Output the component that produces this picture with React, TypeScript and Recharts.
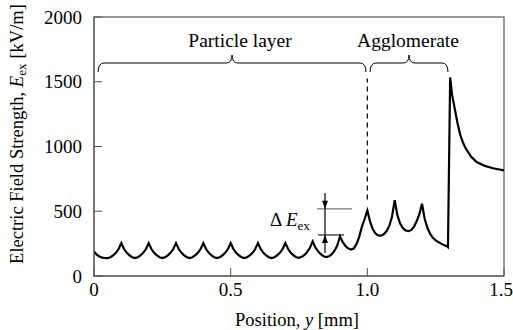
import React from "react"
import { LineChart, Line, XAxis, YAxis, ReferenceLine, Customized } from "recharts"

// position along y [mm]
const positions = [
  0.0, 0.01, 0.02, 0.03, 0.04, 0.05, 0.06, 0.07, 0.08, 0.09,
  0.1, 0.11, 0.12, 0.13, 0.14, 0.15, 0.16, 0.17, 0.18, 0.19,
  0.2, 0.21, 0.22, 0.23, 0.24, 0.25, 0.26, 0.27, 0.28, 0.29,
  0.3, 0.31, 0.32, 0.33, 0.34, 0.35, 0.36, 0.37, 0.38, 0.39,
  0.4, 0.41, 0.42, 0.43, 0.44, 0.45, 0.46, 0.47, 0.48, 0.49,
  0.5, 0.51, 0.52, 0.53, 0.54, 0.55, 0.56, 0.57, 0.58, 0.59,
  0.6, 0.61, 0.62, 0.63, 0.64, 0.65, 0.66, 0.67, 0.68, 0.69,
  0.7, 0.71, 0.72, 0.73, 0.74, 0.75, 0.76, 0.77, 0.78, 0.79,
  0.8, 0.81, 0.82, 0.83, 0.84, 0.85, 0.86, 0.87, 0.88, 0.89,
  0.9, 0.91, 0.92, 0.93, 0.94, 0.95, 0.96, 0.97, 0.98, 0.99,
  1.0, 1.01, 1.02, 1.03, 1.04, 1.05, 1.06, 1.07, 1.08, 1.09,
  1.1, 1.11, 1.12, 1.13, 1.14, 1.15, 1.16, 1.17, 1.18, 1.19,
  1.2, 1.21, 1.22, 1.23, 1.24, 1.25, 1.26, 1.27, 1.28, 1.29,
  1.295, 1.303, 1.31, 1.32, 1.33, 1.34, 1.35, 1.36, 1.38, 1.4,
  1.43, 1.46, 1.5,
]

// electric field strength E_ex [kV/m]
const fieldStrength = [
  189, 165, 150, 142, 139, 138, 145, 159, 179, 208,
  254, 208, 179, 159, 145, 138, 145, 159, 179, 208,
  254, 208, 179, 159, 145, 138, 145, 159, 179, 208,
  254, 208, 179, 159, 145, 138, 145, 159, 179, 208,
  254, 208, 179, 159, 145, 138, 145, 159, 179, 208,
  254, 208, 179, 159, 145, 138, 145, 159, 179, 208,
  254, 208, 179, 159, 145, 138, 145, 159, 179, 208,
  254, 208, 179, 159, 145, 140, 148, 163, 186, 218,
  267, 220, 190, 168, 153, 146, 152, 168, 195, 235,
  305, 262, 232, 213, 204, 212, 245, 300, 380, 440,
  505, 420, 360, 328, 313, 311, 322, 345, 385, 455,
  586, 470, 405, 370, 352, 346, 354, 378, 420, 475,
  558, 440, 370, 325, 295, 275, 262, 250, 240, 230,
  222, 1533, 1400, 1290, 1180, 1090, 1030, 985, 920, 880,
  850, 832, 815,
]

const xTicks = [0, 0.5, 1.0, 1.5]
const yTicks = [0, 500, 1000, 1500, 2000]

const data = positions.map((p, i) => ({ y: p, e: fieldStrength[i] }))

const FONT = "Liberation Serif"

// plot box (matches chart margins below)
const L = 94, R = 504, T = 17, B = 276
const px = (v: number) => L + (v / 1.5) * (R - L)
const py = (v: number) => B - (v / 2000) * (B - T)

const brace = (x1: number, x2: number, yEnd: number, yArm: number, yTip: number) => {
  const xm = (x1 + x2) / 2
  const r = 6
  return `M${x1},${yEnd} Q${x1},${yArm} ${x1 + r},${yArm} L${xm - r},${yArm} Q${xm},${yArm} ${xm},${yTip} Q${xm},${yArm} ${xm + r},${yArm} L${x2 - r},${yArm} Q${x2},${yArm} ${x2},${yEnd}`
}

const Overlay = () => {
  const ax = 325
  const topLine = py(519)
  const botLine = py(317)
  return (
    <g style={{ fontFamily: FONT }}>
      <rect x={L} y={T} width={R - L} height={B - T} fill="none" stroke="#555" strokeWidth={1.2} />
      <path d={brace(px(0.015), px(0.995), 72, 63, 55)} fill="none" stroke="#000" strokeWidth={1} />
      <path d={brace(px(1.01), px(1.295), 72, 63, 55)} fill="none" stroke="#000" strokeWidth={1} />
      <text x={240} y={47} textAnchor="middle" fontSize={19.5} fill="#000">Particle layer</text>
      <text x={408} y={47} textAnchor="middle" fontSize={19.5} fill="#000">Agglomerate</text>
      <line x1={317} x2={352} y1={topLine} y2={topLine} stroke="#777" strokeWidth={1.2} />
      <line x1={318} x2={344} y1={botLine} y2={botLine} stroke="#222" strokeWidth={1.2} />
      <line x1={ax} x2={ax} y1={193} y2={253} stroke="#000" strokeWidth={1.2} />
      <polygon points={`${ax - 3},${topLine - 8} ${ax + 3},${topLine - 8} ${ax},${topLine}`} fill="#000" />
      <polygon points={`${ax - 3},${botLine + 8} ${ax + 3},${botLine + 8} ${ax},${botLine}`} fill="#000" />
      <text x={270} y={226} fontSize={19} fill="#000">
        Δ <tspan fontStyle="italic">E</tspan>
        <tspan fontSize={13} dy={4}>ex</tspan>
      </text>
      <text
        x={19}
        y={134}
        transform="rotate(-90, 19, 134)"
        textAnchor="middle"
        dominantBaseline="middle"
        fontSize={18.5}
        fill="#000"
      >
        Electric Field Strength, <tspan fontStyle="italic">E</tspan>
        <tspan fontSize={13} dy={4}>ex</tspan>
        <tspan dy={-4} dx={5}>[kV/m]</tspan>
      </text>
      <text x={297} y={326} textAnchor="middle" fontSize={18.5} fill="#000">
        Position, <tspan fontStyle="italic">y</tspan> [mm]
      </text>
    </g>
  )
}

export default function App() {
  return (
    <div style={{ position: "absolute", left: 0, top: 0, width: 513, height: 330, background: "#fff", fontFamily: FONT }}>
      <LineChart width={513} height={330} data={data} margin={{ top: T, right: 513 - R, bottom: 0, left: 0 }}>
        <XAxis
          dataKey="y"
          type="number"
          domain={[0, 1.5]}
          ticks={xTicks}
          tickFormatter={(v: number) => (v === 0 ? "0" : v.toFixed(1))}
          height={330 - B}
          tickSize={-8}
          tickMargin={15}
          stroke="#555"
          tick={{ fill: "#000", fontSize: 19, fontFamily: FONT }}
          allowDataOverflow
        />
        <YAxis
          type="number"
          domain={[0, 2000]}
          ticks={yTicks}
          width={L}
          tickSize={-8}
          tickMargin={20}
          stroke="#555"
          tick={{ fill: "#000", fontSize: 19, fontFamily: FONT }}
        />
        <ReferenceLine
          segment={[{ x: 1.0, y: 590 }, { x: 1.0, y: 1525 }]}
          stroke="#000"
          strokeWidth={1.2}
          strokeDasharray="5 4"
        />
        <Line
          type="linear"
          dataKey="e"
          stroke="#000"
          strokeWidth={2.2}
          dot={false}
          isAnimationActive={false}
        />
        <Customized component={Overlay} />
      </LineChart>
    </div>
  )
}
